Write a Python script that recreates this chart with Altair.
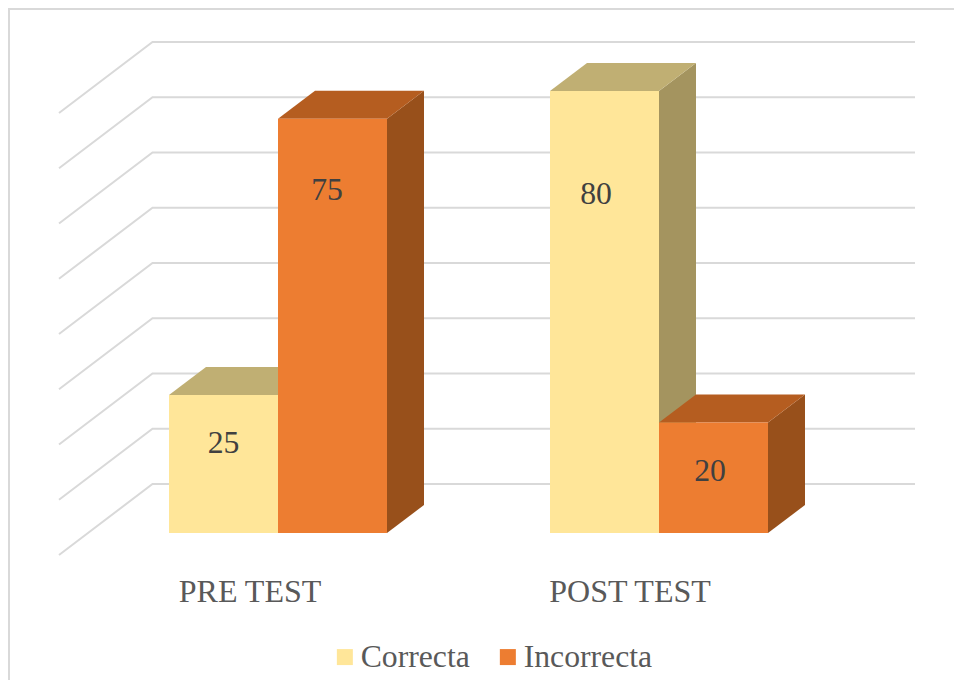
import altair as alt
import pandas as pd

# ---- values
groups = ["PRE TEST", "POST TEST"]
series = ["Correcta", "Incorrecta"]
correcta = [25, 80]
incorrecta = [75, 20]
grid_values = [0, 10, 20, 30, 40, 50, 60, 70, 80]

# ---- colours
front = {"Correcta": "#FFE699", "Incorrecta": "#ED7D31"}
top = {"Correcta": "#C0AF73", "Incorrecta": "#B55D20"}
side = {"Correcta": "#A4945F", "Incorrecta": "#98501B"}
GRID = "#D9D9D9"

# ---- layout (page pixels, chart sits at an 8px margin)
W, H = 946, 672
MARGIN = 8
PX_PER_UNIT = 5.525
BASE_Y = 533          # page y of value 0 on the bars' front plane
BAR_W = 109
BAR_DX, BAR_DY = 37, 28
GROUP_LEFT = [169, 550]
GROUP_LABEL_X = [250, 630]
GROUP_LABEL_Y = 602
WALL_LEFT, WALL_BACK, WALL_RIGHT = 59, 152.5, 915
WALL_FRONT_BASE, WALL_BACK_BASE = 555, 484
DATA_LABEL_X = {"Correcta": [223.5, 596], "Incorrecta": [327, 710]}
DATA_LABEL_Y = {"Correcta": [453, 204], "Incorrecta": [200, 481]}


def px_to_val(py):
    return (BASE_Y - py) / PX_PER_UNIT


def cx(px):
    return px - MARGIN


dv = BAR_DY / PX_PER_UNIT

x_scale = alt.Scale(domain=[0, W], range=[0, W], nice=False, zero=False)
y_scale = alt.Scale(domain=[px_to_val(MARGIN + H), px_to_val(MARGIN)], range=[H, 0], nice=False, zero=False)
X = lambda f: alt.X(f, type="quantitative", scale=x_scale, axis=None, stack=None)
Y = lambda f: alt.Y(f, type="quantitative", scale=y_scale, axis=None, stack=None)

# ---- tables
grid_rows = []
for v in grid_values:
    grid_rows.append({"g": v, "x": cx(WALL_LEFT), "y": px_to_val(WALL_FRONT_BASE) + v})
    grid_rows.append({"g": v, "x": cx(WALL_BACK), "y": px_to_val(WALL_BACK_BASE) + v})
    grid_rows.append({"g": v, "x": cx(WALL_RIGHT), "y": px_to_val(WALL_BACK_BASE) + v})
grid_df = pd.DataFrame(grid_rows)

front_rows, top_rows, side_rows, label_rows = [], [], [], []
for si, (name, vals) in enumerate(zip(series, [correcta, incorrecta])):
    for gi, v in enumerate(vals):
        x0 = cx(GROUP_LEFT[gi] + si * BAR_W)
        x1 = x0 + BAR_W
        bar = f"{name}-{groups[gi]}"
        front_rows.append({"series": name, "x": x0, "x2": x1, "y": v, "y2": 0})
        top_rows += [
            {"bar": bar, "fill": top[name], "x": x0, "x2": x1, "y": v},
            {"bar": bar, "fill": top[name], "x": x0 + BAR_DX, "x2": x1 + BAR_DX, "y": v + dv},
        ]
        side_rows += [
            {"bar": bar, "fill": side[name], "x": x1, "y": v, "y2": 0},
            {"bar": bar, "fill": side[name], "x": x1 + BAR_DX, "y": v + dv, "y2": dv},
        ]
        label_rows.append({"text": str(v), "x": cx(DATA_LABEL_X[name][gi]), "y": px_to_val(DATA_LABEL_Y[name][gi])})

group_df = pd.DataFrame({"text": groups, "x": [cx(p) for p in GROUP_LABEL_X], "y": px_to_val(GROUP_LABEL_Y)})
frame_v = pd.DataFrame({"x": [1], "y": [px_to_val(MARGIN)], "y2": [px_to_val(MARGIN + H)]})
frame_h = pd.DataFrame({"x": [0], "x2": [W], "y": [px_to_val(MARGIN + 1)]})

# ---- layers
frame_left = alt.Chart(frame_v).mark_rule(color=GRID, strokeWidth=2).encode(
    x=X("x"), y=Y("y"), y2="y2")
frame_top = alt.Chart(frame_h).mark_rule(color=GRID, strokeWidth=2).encode(
    x=X("x"), x2="x2", y=Y("y"))
grid = alt.Chart(grid_df).mark_line(color=GRID, strokeWidth=2).encode(
    x=X("x"), y=Y("y"), detail="g:N")
sides = alt.Chart(pd.DataFrame(side_rows)).mark_area(opacity=1).encode(
    x=X("x"), y=Y("y"), y2="y2", detail="bar:N", color=alt.Color("fill:N", scale=None))
tops = alt.Chart(pd.DataFrame(top_rows)).mark_area(orient="horizontal", opacity=1).encode(
    y=Y("y"), x=X("x"), x2="x2", detail="bar:N", color=alt.Color("fill:N", scale=None))
fronts = alt.Chart(pd.DataFrame(front_rows)).mark_rect().encode(
    x=X("x"), x2="x2", y=Y("y"), y2="y2",
    color=alt.Color(
        "series:N",
        scale=alt.Scale(domain=series, range=[front[s] for s in series]),
        legend=alt.Legend(
            title=None, orient="none", direction="horizontal", columns=2,
            legendX=cx(329), legendY=cx(641),
            symbolType="square", symbolSize=256, symbolStrokeWidth=0, symbolOpacity=1,
            labelFont="Liberation Serif", labelFontSize=31.7, labelColor="#595959",
            labelOffset=0, columnPadding=22, labelLimit=300, padding=0,
        ),
    ),
)
data_labels = alt.Chart(pd.DataFrame(label_rows)).mark_text(
    font="Liberation Serif", fontSize=31.7, color="#404040", align="center", baseline="alphabetic"
).encode(x=X("x"), y=Y("y"), text="text:N")
group_labels = alt.Chart(group_df).mark_text(
    font="Liberation Serif", fontSize=32, color="#595959", align="center", baseline="alphabetic"
).encode(x=X("x"), y=Y("y"), text="text:N")

chart = alt.layer(
    frame_left, frame_top, grid, sides, tops, fronts, data_labels, group_labels
).resolve_scale(color="independent").properties(
    width=W, height=H, padding=0,
    autosize=alt.AutoSizeParams(type="none"),
    background="white",
).configure_view(stroke=None)

chart.save("out.html", embed_options={"renderer": "svg", "actions": False})
